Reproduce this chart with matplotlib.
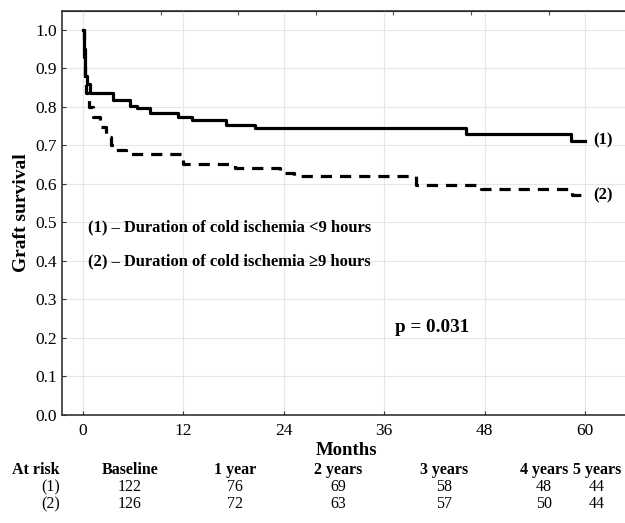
import numpy as np
import matplotlib
matplotlib.use("Agg")
import matplotlib.pyplot as plt

plt.rcParams['font.family'] = ['Liberation Serif', 'DejaVu Serif']

# group (1): cold ischemia < 9 hours
t1 = [0, 0.1, 0.2, 0.3, 0.5, 0.8, 3.6, 5.6, 6.4, 8.0, 11.3, 13.0, 17.1, 20.6, 45.8, 58.3, 60]
s1 = [1.0, 0.95, 0.91, 0.88, 0.86, 0.837, 0.818, 0.803, 0.796, 0.784, 0.775, 0.766, 0.753, 0.744, 0.730, 0.712, 0.712]

# group (2): cold ischemia >= 9 hours
t2 = [0, 0.1, 0.2, 0.4, 0.7, 1.2, 2.0, 2.8, 3.4, 4.0, 5.2, 11.9, 18.2, 23.6, 25.2, 39.8, 47.5, 58.4, 60]
s2 = [1.0, 0.93, 0.87, 0.835, 0.80, 0.775, 0.749, 0.723, 0.701, 0.688, 0.678, 0.652, 0.641, 0.629, 0.620, 0.597, 0.587, 0.571, 0.571]

xticks = [0, 12, 24, 36, 48, 60]
yticks = [0.0, 0.1, 0.2, 0.3, 0.4, 0.5, 0.6, 0.7, 0.8, 0.9, 1.0]

risk_cols = ['Baseline', '1 year', '2 years', '3 years', '4 years', '5 years']
risk1 = [122, 76, 69, 58, 48, 44]
risk2 = [126, 72, 63, 57, 50, 44]

fig = plt.figure(figsize=(6.25, 5.23), dpi=100)
ax = fig.add_axes([62 / 625, 1 - 415 / 523, 1 - 62 / 625 + 0.01, (415 - 11) / 523])

ax.step(t1, s1, where='post', color='black', lw=2.3)
ax.step(t2, s2, where='post', color='black', lw=2.3, linestyle=(0, (3.5, 2.5)))

ax.set_xlim(-2.5, 65.5)
ax.set_ylim(0, 1.049)
ax.set_xticks(xticks)
ax.set_yticks(yticks)
ax.set_yticklabels(['%.1f' % v for v in yticks])
ax.grid(True, color='#e6e6e6', lw=0.8)
ax.set_axisbelow(True)
ax.tick_params(direction='in', length=3, labelsize=12.5, width=0.8, colors='#333333', labelcolor='black')
ax.tick_params(axis='x', pad=6)
for side in ['left', 'bottom', 'top']:
    ax.spines[side].set_color('#333333')
    ax.spines[side].set_linewidth(1.2)
ax.spines['right'].set_visible(False)

# small marks on the top edge
top = ax.secondary_xaxis('top')
top.set_ticks(np.arange(7) * 9.27)
top.set_xticklabels([])
top.tick_params(direction='in', length=3, colors='#555555')

ax.set_ylabel('Graft survival', fontsize=14, fontweight='bold', labelpad=4)
ax.set_xlabel('Months', fontsize=13.5, fontweight='bold', labelpad=2)

ax.text(61.0, s1[-1], '(1)', fontsize=12, fontweight='bold', va='center')
ax.text(61.0, s2[-1], '(2)', fontsize=12, fontweight='bold', va='center')
ax.text(0.6, 0.486, '(1) \u2013 Duration of cold ischemia <9 hours', fontsize=11.9, fontweight='bold', va='center')
ax.text(0.6, 0.398, '(2) \u2013 Duration of cold ischemia \u22659 hours', fontsize=11.9, fontweight='bold', va='center')
ax.text(41.7, 0.226, 'p = 0.031', fontsize=13.8, fontweight='bold', ha='center', va='center')

# at-risk table
col_x = [130, 235, 338, 444, 544, 597]
fig.text(36 / 625, 1 - 470 / 523, 'At risk', fontsize=11.5, fontweight='bold', ha='center', va='center')
fig.text(60 / 625, 1 - 487 / 523, '(1)', fontsize=11.5, ha='right', va='center')
fig.text(60 / 625, 1 - 504 / 523, '(2)', fontsize=11.5, ha='right', va='center')
for x, c, a, b in zip(col_x, risk_cols, risk1, risk2):
    fig.text(x / 625, 1 - 470 / 523, c, fontsize=11.5, fontweight='bold', ha='center', va='center')
    fig.text(x / 625, 1 - 487 / 523, str(a), fontsize=11.5, ha='center', va='center')
    fig.text(x / 625, 1 - 504 / 523, str(b), fontsize=11.5, ha='center', va='center')

fig.savefig('out.png', dpi=100)
